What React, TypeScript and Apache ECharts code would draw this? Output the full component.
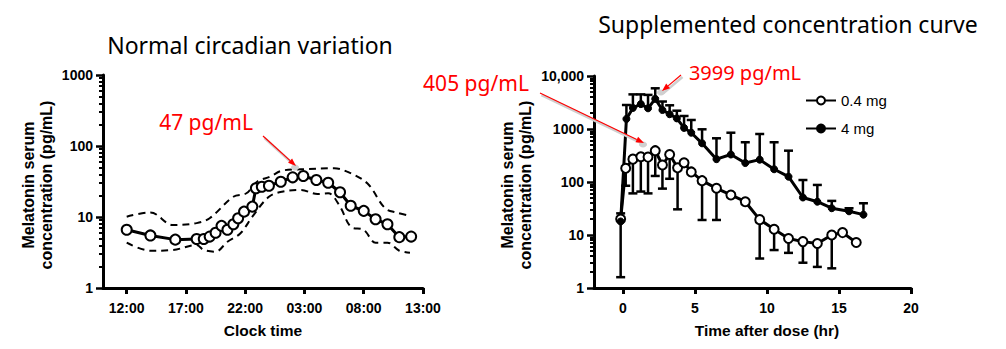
import React, { useEffect, useRef } from "react";
import * as echarts from "echarts";

// ---------- Left panel: normal circadian variation ----------
const clockHours = [12.0, 14.0, 16.1, 17.9, 18.5, 19.0, 19.5, 20.0, 20.5, 21.0, 21.4, 21.9, 22.6, 22.9, 23.4, 24.0, 25.0, 26.0, 26.9, 28.0, 29.0, 30.0, 30.9, 32.0, 33.0, 34.0, 35.0, 36.0];
const meanMelatonin = [6.6, 5.5, 4.8, 4.9, 4.9, 5.3, 6.0, 7.5, 6.6, 7.9, 9.6, 11.9, 14.0, 25.4, 26.7, 27.6, 31.4, 36.2, 37.8, 33.2, 30.4, 22.3, 14.4, 12.2, 9.3, 7.9, 5.2, 5.3];
const upperHours = [12.0, 14.0, 15.9, 17.9, 19.0, 21.0, 22.1, 23.0, 24.1, 25.1, 26.7, 29.5, 30.6, 32.3, 33.8, 34.8, 35.9];
const upperValues = [10.1, 11.6, 7.7, 8.2, 9.6, 19.3, 21.6, 31.4, 37, 44.9, 47, 48.5, 43.5, 29.8, 13.3, 11.5, 10.4];
const lowerHours = [12.0, 14.0, 15.9, 17.9, 18.5, 19.5, 20.5, 21.6, 22.6, 24.0, 25.1, 26.7, 28.1, 29.0, 30.0, 30.9, 32.0, 33.0, 34.0, 35.0, 35.9];
const lowerValues = [4.35, 3.35, 3.43, 4.03, 3.43, 3.25, 4.49, 5.9, 10.1, 19.3, 22.7, 24, 21.1, 21.6, 14, 7.3, 6.6, 4.35, 4.35, 3.35, 3.14];
const clockTicks = [12, 17, 22, 27, 32, 37];
const clockLabels = ["12:00", "17:00", "22:00", "03:00", "08:00", "13:00"];
const leftLogTicks = [1, 10, 100, 1000];

// ---------- Right panel: supplemented concentration curve ----------
const doseTimes04 = [-0.15, 0.2, 0.7, 1.25, 1.75, 2.25, 2.75, 3.25, 3.8, 4.25, 4.75, 5.5, 6.5, 7.5, 8.5, 9.5, 10.5, 11.5, 12.5, 13.5, 14.5, 15.25, 16.2];
const conc04 = [20, 181, 270, 300, 295, 390, 209, 330, 185, 230, 155, 106, 76, 57, 42.5, 19.5, 12.8, 8.6, 7.5, 6.9, 10, 11.1, 7.2];
const conc04Lower = [1.6, 85, 61, 66, 61, 130, 75, 115, 30.5, null, null, 19.2, 19.2, null, null, 3.6, 5.2, 4.6, 3.0, 2.5, 2.35, null, null];
const doseTimes4 = [-0.15, 0.25, 0.7, 1.25, 1.75, 2.25, 2.75, 3.25, 3.75, 4.25, 4.75, 5.5, 6.5, 7.5, 8.5, 9.5, 10.5, 11.5, 12.5, 13.5, 14.5, 15.7, 16.7];
const conc4 = [18, 1550, 2500, 2950, 2457, 3700, 2282, 1900, 1585, 1050, 851, 537, 270, 330, 228, 264, 174, 126, 51, 42.5, 32, 28, 24.2];
const conc4Upper = [25.6, 2837, 4500, 4500, 4400, 5860, 3300, 2800, 2215, 1760, 1480, 987, 668, 851, 562, 805, 562, 390, 109, 88, 44, 32, 39.7];
const doseTicks = [0, 5, 10, 15, 20];
const rightLogTicks = [1, 10, 100, 1000, 10000];
const seriesNames = ["0.4 mg", "4 mg"];

const minorTicks = (majors: number[]) => {
  const out: number[] = [];
  for (let i = 0; i < majors.length - 1; i++) {
    for (let k = 2; k <= 9; k++) out.push(majors[i] * k);
  }
  return out;
};

const zip = (xs: number[], ys: (number | null)[]) => xs.map((x, i) => [x, ys[i]]);

const AX = "Liberation Sans, Arial, sans-serif";
const TF = "Noto Sans, Open Sans, sans-serif";

const axisLineStyle = { show: true, onZero: false, lineStyle: { color: "#000", width: 3 } };

function makeXAxis(gridIndex: number, min: number, max: number, ticks: number[], fmt: (v: number) => string) {
  return {
    type: "value",
    gridIndex,
    min,
    max,
    axisLine: axisLineStyle,
    axisTick: { show: true, customValues: ticks, length: 6, inside: false, lineStyle: { color: "#000", width: 3 } },
    axisLabel: { customValues: ticks, formatter: fmt, color: "#000", fontWeight: "bold", fontSize: 14, fontFamily: AX, margin: 13 },
    splitLine: { show: false },
  };
}

function makeYAxes(gridIndex: number, max: number, majors: number[], fmt: (v: number) => string) {
  return [
    {
      type: "log",
      logBase: 10,
      gridIndex,
      position: "left",
      min: 1,
      max,
      axisLine: axisLineStyle,
      axisTick: { show: true, customValues: majors, length: 7, lineStyle: { color: "#000", width: 2.5 } },
      axisLabel: { customValues: majors, formatter: fmt, color: "#000", fontWeight: "bold", fontSize: 14, fontFamily: AX, margin: 10 },
      splitLine: { show: false },
    },
    {
      type: "log",
      logBase: 10,
      gridIndex,
      position: "left",
      min: 1,
      max,
      axisLine: { show: false, onZero: false },
      axisTick: { show: true, customValues: minorTicks(majors), length: 4, lineStyle: { color: "#000", width: 2 } },
      axisLabel: { show: false },
      splitLine: { show: false },
    },
  ];
}

function errorBarRender(params: any, api: any) {
  const x = api.value(0);
  const y = api.value(1);
  const b = api.value(2);
  const p = api.coord([x, y]);
  const q = api.coord([x, b]);
  const half = 4.5;
  return {
    type: "group",
    children: [
      { type: "line", shape: { x1: p[0], y1: p[1], x2: q[0], y2: q[1] }, style: { stroke: "#000", lineWidth: 2.5 } },
      { type: "line", shape: { x1: q[0] - half, y1: q[1], x2: q[0] + half, y2: q[1] }, style: { stroke: "#000", lineWidth: 2.5 } },
    ],
  };
}

function arrow(x1: number, y1: number, x2: number, y2: number) {
  const dx = x2 - x1;
  const dy = y2 - y1;
  const len = Math.sqrt(dx * dx + dy * dy);
  const ux = dx / len;
  const uy = dy / len;
  const nx = -uy;
  const ny = ux;
  const hl = 8;
  const hw = 3;
  const bx = x2 - ux * hl;
  const by = y2 - uy * hl;
  return [
    { type: "line", shape: { x1: x1 + 1.5, y1: y1 + 2, x2: x2 + 1.5, y2: y2 + 2 }, style: { stroke: "#cfcfcf", lineWidth: 2.5 }, z: 50 },
    { type: "ellipse", shape: { cx: x2 - 1, cy: y2 + 1.5, rx: 4, ry: 3 }, style: { fill: "#d0d0d0" }, z: 50 },
    { type: "line", shape: { x1, y1, x2: bx, y2: by }, style: { stroke: "#ff0000", lineWidth: 1.2 }, z: 51 },
    {
      type: "polygon",
      shape: { points: [[x2, y2], [bx + nx * hw, by + ny * hw], [bx - nx * hw, by - ny * hw]] },
      style: { fill: "#ff0000" },
      z: 51,
    },
  ];
}

function text(x: number, y: number, s: string, size: number, opts: any = {}) {
  return {
    type: "text",
    x,
    y,
    z: 60,
    rotation: opts.rotation || 0,
    style: {
      text: s,
      fill: opts.fill || "#000",
      fontSize: size,
      fontFamily: opts.font || TF,
      fontWeight: opts.weight || "normal",
      align: "center",
      verticalAlign: "middle",
      lineHeight: opts.lineHeight,
    },
  };
}

export default function App() {
  const ref = useRef<HTMLDivElement>(null);
  useEffect(() => {
    if (!ref.current) return;
    const chart = echarts.init(ref.current, undefined, { renderer: "svg" });
    const yAxesLeft = makeYAxes(0, 1000, leftLogTicks, (v: number) => String(v));
    const yAxesRight = makeYAxes(1, 10000, rightLogTicks, (v: number) => (v >= 10000 ? "10,000" : String(v)));
    const option: any = {
      animation: false,
      backgroundColor: "#fff",
      grid: [
        { left: 103, top: 75, width: 320, height: 213 },
        { left: 594, top: 76, width: 317, height: 212 },
      ],
      xAxis: [
        makeXAxis(0, 10, 37, clockTicks, (v: number) => clockLabels[clockTicks.indexOf(v)] ?? ""),
        makeXAxis(1, -2, 20, doseTicks, (v: number) => String(v)),
      ],
      yAxis: [...yAxesLeft, ...yAxesRight],
      legend: {
        data: seriesNames,
        orient: "vertical",
        left: 800,
        top: 88,
        itemWidth: 30,
        itemHeight: 10,
        itemGap: 13,
        textStyle: { fontSize: 15, fontFamily: AX, color: "#000" },
      },
      series: [
        {
          type: "line",
          xAxisIndex: 0,
          yAxisIndex: 0,
          data: zip(upperHours, upperValues),
          smooth: 0.35,
          symbol: "none",
          lineStyle: { color: "#000", width: 2, type: [7, 5] },
          z: 2,
        },
        {
          type: "line",
          xAxisIndex: 0,
          yAxisIndex: 0,
          data: zip(lowerHours, lowerValues),
          smooth: 0.35,
          symbol: "none",
          lineStyle: { color: "#000", width: 2, type: [7, 5] },
          z: 2,
        },
        {
          type: "line",
          xAxisIndex: 0,
          yAxisIndex: 0,
          data: zip(clockHours, meanMelatonin),
          symbol: "circle",
          symbolSize: 10,
          lineStyle: { color: "#000", width: 3 },
          itemStyle: { color: "#fff", borderColor: "#000", borderWidth: 2 },
          z: 5,
        },
        {
          type: "custom",
          xAxisIndex: 1,
          yAxisIndex: 2,
          renderItem: errorBarRender,
          encode: { x: 0, y: 1 },
          data: doseTimes04.map((t, i) => [t, conc04[i], conc04Lower[i]]).filter((d) => d[2] != null),
          z: 3,
        },
        {
          type: "custom",
          xAxisIndex: 1,
          yAxisIndex: 2,
          renderItem: errorBarRender,
          encode: { x: 0, y: 1 },
          data: doseTimes4.map((t, i) => [t, conc4[i], conc4Upper[i]]),
          z: 3,
        },
        {
          name: seriesNames[0],
          type: "line",
          xAxisIndex: 1,
          yAxisIndex: 2,
          data: zip(doseTimes04, conc04),
          symbol: "circle",
          symbolSize: 9,
          lineStyle: { color: "#000", width: 3 },
          itemStyle: { color: "#fff", borderColor: "#000", borderWidth: 2 },
          z: 5,
        },
        {
          name: seriesNames[1],
          type: "line",
          xAxisIndex: 1,
          yAxisIndex: 2,
          data: zip(doseTimes4, conc4),
          symbol: "circle",
          symbolSize: 7,
          lineStyle: { color: "#000", width: 3 },
          itemStyle: { color: "#000", borderColor: "#000", borderWidth: 1 },
          z: 5,
        },
      ],
      graphic: [
        text(250, 45, "Normal circadian variation", 23),
        text(788, 24, "Supplemented concentration curve", 23),
        text(263, 330, "Clock time", 15.5, { font: AX, weight: "bold" }),
        text(767, 330, "Time after dose (hr)", 15.5, { font: AX, weight: "bold" }),
        text(37, 185, "Melatonin serum\nconcentration (pg/mL)", 16, { font: AX, weight: "bold", rotation: Math.PI / 2, lineHeight: 18 }),
        text(516, 185, "Melatonin serum\nconcentration (pg/mL)", 16, { font: AX, weight: "bold", rotation: Math.PI / 2, lineHeight: 18 }),
        text(206, 122, "47 pg/mL", 21, { fill: "#ff0000" }),
        text(476, 83, "405 pg/mL", 21, { fill: "#ff0000" }),
        text(745, 72, "3999 pg/mL", 20, { fill: "#ff0000" }),
        ...arrow(263, 136, 296, 166),
        ...arrow(540, 93, 644, 143),
        ...arrow(681, 75, 662, 91),
      ],
    };
    chart.setOption(option);
    return () => chart.dispose();
  }, []);
  return <div ref={ref} style={{ position: "absolute", left: 0, top: 0, width: 1006, height: 349 }} />;
}
